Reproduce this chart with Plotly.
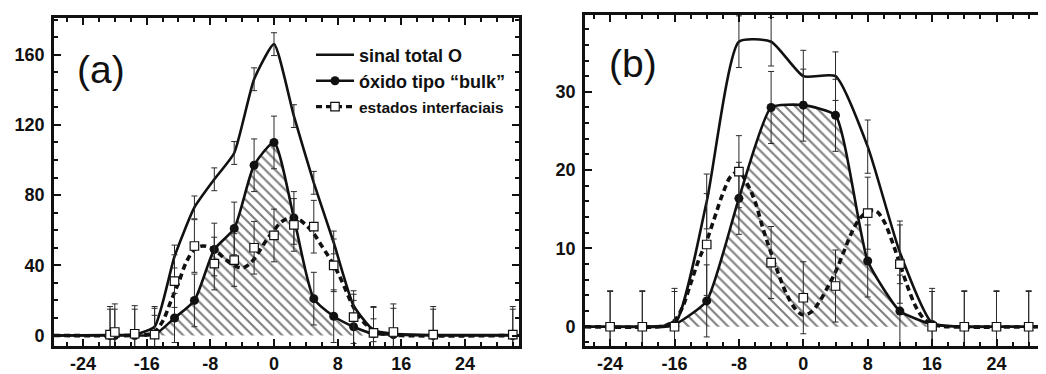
import plotly.graph_objects as go

# ---------------- data: panel (a) ----------------
A_X = [-20.6, -20, -17.5, -15, -12.5, -10, -7.5, -5, -2.5, 0, 2.5, 5, 7.5, 10, 12.5, 15, 20, 30]
A_TOTAL = [0.3, 0.3, 0.5, 5, 45, 73, 89, 104, 146, 166, 125, 87, 53, 17, 3, 1, 0.3, 0.3]
A_TOTAL_ERR = [0, 0, 0, 6.5, 6.5, 6.5, 6.5, 6.5, 6.5, 6.5, 6.5, 6.5, 6.5, 6.5, 6.5, 0, 0, 0]
A_BULK = [0, 0, 0, 0.5, 10, 20, 49, 61, 97, 110, 67, 21, 11, 5, 1, 0.5, 0, 0]
A_BULK_ERR = [15, 15, 15, 15, 14, 15, 15, 15, 15, 15, 15, 15, 15, 15, 15, 15, 15, 15]
A_INTERF = [0.5, 2, 1, 0.5, 31, 51, 41, 43, 50, 57, 63, 62, 40, 10.5, 1.5, 2, 0.5, 0.5]
A_INTERF_ERR = [16, 16, 16, 16, 15, 15, 15, 15, 15, 15, 15, 15, 15, 15, 15, 16, 16, 16]
A_FIT_X = [-18, -16, -15, -14, -13, -12, -11, -10, -9, -8, -7, -6, -5, -4, -3, -2, -1, 0,
           1, 2, 3, 4, 5, 6, 7, 8, 9, 10, 11, 12, 13, 14, 16]
A_FIT_INTERF = [0, 0.5, 2, 8, 19, 30, 42, 49, 51, 50, 47, 43, 40, 38.5, 41, 47, 54, 60,
                65, 67, 66.5, 63, 58, 51, 44, 36, 26, 16, 9, 4.5, 2, 0.7, 0]
A_XRANGE = [-27.64, 30.78]
A_YRANGE = [-5.98, 180.9]
A_YTICKS = [0, 40, 80, 120, 160]

# ---------------- data: panel (b) ----------------
B_X = [-24, -20, -16, -12, -8, -4, 0, 4, 8, 12, 16, 20, 24, 28]
B_TOTAL = [0, 0, 0.3, 16, 36.4, 36.4, 32, 32, 23, 9.5, 0.5, 0, 0, 0]
B_TOTAL_ERR = [0, 0, 0, 3.5, 3.3, 3.1, 3.3, 3.1, 3.4, 4, 0, 0, 0, 0]
B_BULK = [0, 0, 0.3, 3.3, 16.4, 28, 28.3, 27, 8.4, 2, 0.3, 0, 0, 0]
B_BULK_ERR = [4.6, 4.6, 4.6, 4.6, 4.6, 4.6, 4.6, 4.6, 4.6, 4.6, 4.6, 4.6, 4.6, 4.6]
B_INTERF = [0, 0, 0, 10.5, 19.8, 8.2, 3.7, 5.2, 14.5, 8, 0, 0, 0, 0]
B_INTERF_ERR = [4.5, 4.5, 4.5, 6.5, 4.6, 4.6, 4.6, 4.6, 4.6, 5, 4.5, 4.5, 4.5, 4.5]
B_FIT_X = [-18, -17, -16, -15, -14, -13, -12, -11, -10, -9, -8, -7, -6, -5, -4, -3, -2, -1, 0,
           1, 2, 3, 4, 5, 6, 7, 8, 9, 10, 11, 12, 13, 14, 15, 16, 17, 18]
B_FIT_INTERF = [0, 0.2, 0.8, 2.5, 5.5, 8.5, 11, 14, 17, 19.2, 19.8, 18.3, 16, 12.5, 9.4, 6.5, 4, 2.3, 1.5,
                1.9, 3.2, 5, 7, 9.5, 12, 13.8, 14.7, 14.8, 13.5, 11, 8, 5, 2.5, 1, 0.3, 0.1, 0]
B_XRANGE = [-27.12, 30.15]
B_YRANGE = [-2.46, 39.81]
B_YTICKS = [0, 10, 20, 30]

X_TICKS = [-24, -16, -8, 0, 8, 16, 24]
X_TICK_LABELS = ["-24", "-16", "-8", "0", "8", "16", "24"]

NAMES = ["sinal total O", "óxido tipo “bulk”", "estados interfaciais"]
PANEL_LABELS = ["(a)", "(b)"]

FONT = "Liberation Sans, Arial, Helvetica, sans-serif"
BLACK = "#111111"
ERRC = "#2a2a2a"

# page body has an 8px margin: figure is laid out in page pixels minus that offset
OFF = 8
W, H = 1046 - OFF, 374 - OFF


def PX(px):
    return (px - OFF) / W


def PY(py):
    return 1 - (py - OFF) / H


fig = go.Figure()


def ext(xs, ys, rng):
    return [rng[0]] + list(xs) + [rng[1]], [0] + list(ys) + [0]


def add_panel(xa, ya, X, TOT, TOT_E, BULK, BULK_E, INT, INT_E, FX, FY, rng, tot_smooth, bulk_smooth):
    bx, by = ext(X, BULK, rng)
    fig.add_trace(go.Scatter(x=bx, y=by, mode="lines", xaxis=xa, yaxis=ya,
                             line=dict(color="rgba(60,60,60,0.9)", width=0.8, shape="spline", smoothing=bulk_smooth),
                             fill="tozeroy", fillcolor="rgba(0,0,0,0)",
                             fillpattern=dict(shape="\\", size=7, solidity=0.3, fgcolor="#000000",
                                              bgcolor="rgba(255,255,255,0)"),
                             showlegend=False, hoverinfo="skip"))
    tx, ty = ext(X, TOT, rng)
    fig.add_trace(go.Scatter(x=tx, y=ty, mode="lines", xaxis=xa, yaxis=ya,
                             line=dict(color=BLACK, width=2.6, shape="spline", smoothing=tot_smooth),
                             showlegend=False, hoverinfo="skip"))
    fig.add_trace(go.Scatter(x=bx, y=by, mode="lines", xaxis=xa, yaxis=ya,
                             line=dict(color=BLACK, width=2.6, shape="spline", smoothing=bulk_smooth),
                             showlegend=False, hoverinfo="skip"))
    fx, fy = ext(FX, FY, rng)
    fig.add_trace(go.Scatter(x=fx, y=fy, mode="lines", xaxis=xa, yaxis=ya,
                             line=dict(color=BLACK, width=3.6, dash="6px,4px", shape="spline", smoothing=1),
                             showlegend=False, hoverinfo="skip"))
    fig.add_trace(go.Scatter(x=X, y=TOT, mode="markers", xaxis=xa, yaxis=ya,
                             marker=dict(size=1, color="rgba(0,0,0,0)"),
                             error_y=dict(type="data", array=TOT_E, color=ERRC, thickness=1, width=3),
                             showlegend=False, hoverinfo="skip"))
    fig.add_trace(go.Scatter(x=X, y=BULK, mode="markers", xaxis=xa, yaxis=ya,
                             marker=dict(size=9, color=BLACK, symbol="circle"),
                             error_y=dict(type="data", array=BULK_E, color=ERRC, thickness=1, width=3),
                             showlegend=False, hoverinfo="skip"))
    fig.add_trace(go.Scatter(x=X, y=INT, mode="markers", xaxis=xa, yaxis=ya,
                             marker=dict(size=8.5, color="white", symbol="square",
                                         line=dict(color=BLACK, width=1.2)),
                             error_y=dict(type="data", array=INT_E, color=ERRC, thickness=1, width=3),
                             showlegend=False, hoverinfo="skip"))


add_panel("x", "y", A_X, A_TOTAL, A_TOTAL_ERR, A_BULK, A_BULK_ERR, A_INTERF, A_INTERF_ERR,
          A_FIT_X, A_FIT_INTERF, A_XRANGE, 0.5, 0.6)
add_panel("x2", "y2", B_X, B_TOTAL, B_TOTAL_ERR, B_BULK, B_BULK_ERR, B_INTERF, B_INTERF_ERR,
          B_FIT_X, B_FIT_INTERF, B_XRANGE, 0.55, 0.5)

# legend-only entries, one legend per row so rows can be placed exactly
fig.add_trace(go.Scatter(x=[None], y=[None], mode="lines", name=NAMES[0], legend="legend",
                         line=dict(color=BLACK, width=2.6)))
fig.add_trace(go.Scatter(x=[None], y=[None], mode="lines+markers", name=NAMES[1], legend="legend2",
                         line=dict(color=BLACK, width=2.6), marker=dict(size=9, color=BLACK)))
fig.add_trace(go.Scatter(x=[None], y=[None], mode="lines+markers", name=NAMES[2], legend="legend3",
                         line=dict(color=BLACK, width=3.4, dash="6px,4px"),
                         marker=dict(size=8.5, color="white", symbol="square", line=dict(color=BLACK, width=1.2))))

tickfont = dict(family=FONT, size=18, color=BLACK, weight="bold")


def xax(dom, rng, anchor):
    return dict(domain=dom, range=rng, anchor=anchor, automargin=False,
                tickmode="array", tickvals=X_TICKS, ticktext=X_TICK_LABELS,
                ticks="inside", ticklen=7, tickwidth=2, tickcolor=BLACK,
                minor=dict(dtick=2, tick0=0, ticks="inside", ticklen=4, tickwidth=1.6, tickcolor=BLACK),
                showline=True, linewidth=2.6, linecolor=BLACK, mirror="ticks",
                showgrid=False, zeroline=False, tickfont=tickfont, ticklabelstandoff=0, fixedrange=True)


def yax(dom, rng, tv, minor_dt, anchor, mirror):
    return dict(domain=dom, range=rng, anchor=anchor, automargin=False,
                tickmode="array", tickvals=tv, ticktext=[str(v) for v in tv],
                ticks="inside", ticklen=7, tickwidth=2, tickcolor=BLACK,
                minor=dict(dtick=minor_dt, tick0=0, ticks="inside", ticklen=4, tickwidth=1.6, tickcolor=BLACK),
                showline=True, linewidth=2.6, linecolor=BLACK, mirror=mirror,
                showgrid=False, zeroline=False, tickfont=tickfont, ticklabelstandoff=3, fixedrange=True)


def leg(py, size):
    return dict(x=PX(311), y=PY(py), xanchor="left", yanchor="middle",
                bgcolor="rgba(255,255,255,0)", borderwidth=0, itemwidth=38,
                font=dict(family=FONT, size=size, color=BLACK, weight="bold"))


fig.update_layout(
    width=W, height=H,
    margin=dict(l=0, r=0, t=0, b=0, autoexpand=False),
    paper_bgcolor="white", plot_bgcolor="white",
    xaxis=xax([PX(54), PX(519)], A_XRANGE, "y"),
    yaxis=yax([PY(346), PY(18)], A_YRANGE, A_YTICKS, 10, "x", "ticks"),
    xaxis2=xax([PX(585), 1.0], B_XRANGE, "y2"),
    yaxis2=yax([PY(346), PY(15)], B_YRANGE, B_YTICKS, 2, "x2", False),
    showlegend=True,
    legend=leg(55, 18),
    legend2=leg(81, 18),
    legend3=leg(107, 15.5),
    annotations=[
        dict(text=PANEL_LABELS[0], x=PX(101), y=PY(70), xref="paper", yref="paper",
             xanchor="center", yanchor="middle",
             showarrow=False, font=dict(family=FONT, size=39, color=BLACK)),
        dict(text=PANEL_LABELS[1], x=PX(633), y=PY(63), xref="paper", yref="paper",
             xanchor="center", yanchor="middle",
             showarrow=False, font=dict(family=FONT, size=39, color=BLACK)),
    ],
)

fig.write_html("out.html")
